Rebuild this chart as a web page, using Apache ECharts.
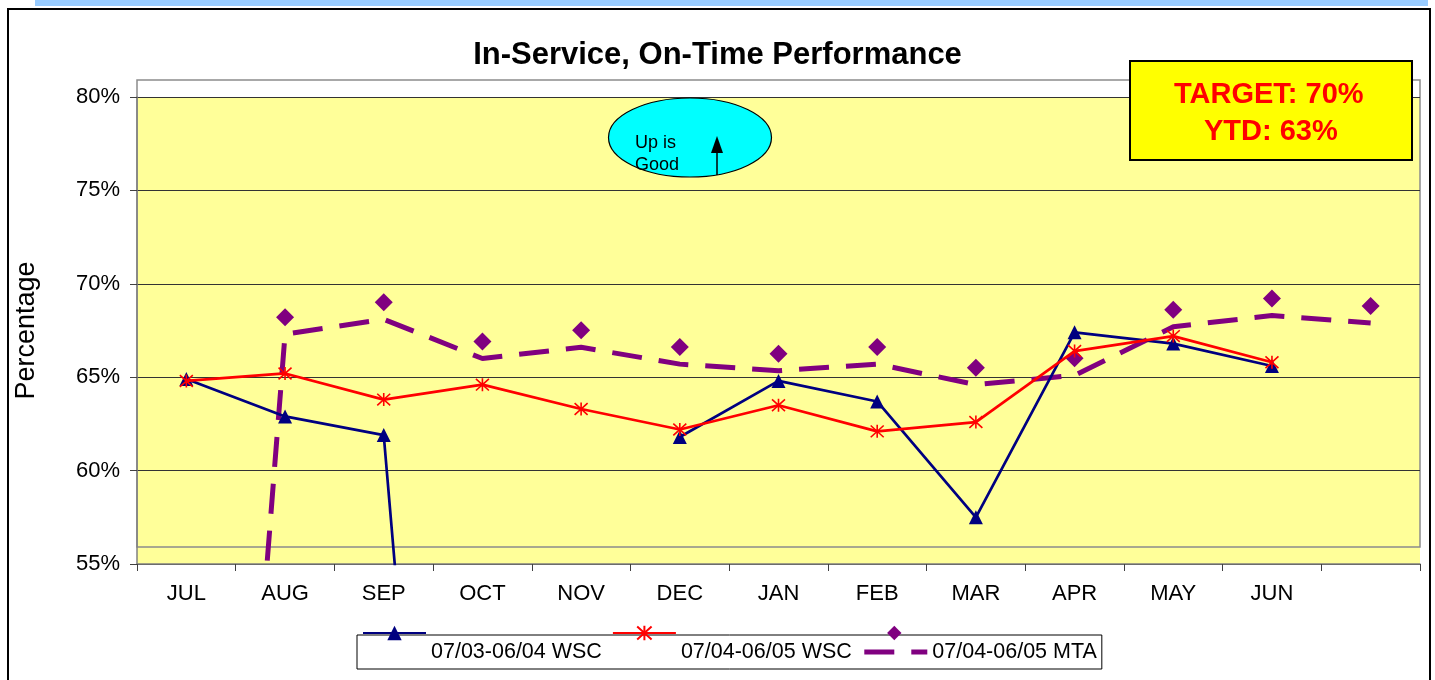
<!DOCTYPE html>
<html>
<head>
<meta charset="utf-8">
<title>In-Service, On-Time Performance</title>
<script src="https://cdn.jsdelivr.net/npm/echarts@6/dist/echarts.min.js"></script>
<style>
  html, body { margin: 0; padding: 0; background: #fff; }
  #chart { width: 1435px; height: 680px; }
</style>
</head>
<body>
<div id="chart"></div>
<script>
// months (13th slot is an empty category, as in the original sheet)
const months = ['JUL', 'AUG', 'SEP', 'OCT', 'NOV', 'DEC', 'JAN', 'FEB', 'MAR', 'APR', 'MAY', 'JUN', ''];
const yTicks = [55, 60, 65, 70, 75, 80];

// values in percent
const wsc0304 = [64.9, 62.9, 61.9, 0, null, 61.8, 64.8, 63.7, 57.5, 67.4, 66.8, 65.6, null];
const wsc0405 = [64.8, 65.2, 63.8, 64.6, 63.3, 62.2, 63.5, 62.1, 62.6, 66.4, 67.2, 65.8, null];
const mta0405 = [0, 67.3, 68.1, 66.0, 66.6, 65.7, 65.35, 65.7, 64.6, 65.1, 67.7, 68.3, 67.9];

const seriesNames = ['07/03-06/04 WSC', '07/04-06/05 WSC', '07/04-06/05 MTA'];
const targetText = 'TARGET: 70%';
const ytdText = 'YTD: 63%';

const FONT = '"Liberation Sans", Arial, sans-serif';
const NAVY = '#000080';
const RED = '#ff0000';
const PURPLE = '#800080';
const STAR = 'path://M5,0L5,10M0.5,0.5L9.5,9.5M0.5,9.5L9.5,0.5';
const MTA_DASH = [30, 17];

const chart = echarts.init(document.getElementById('chart'));

const legendBase = {
  left: 357,
  itemWidth: 63,
  itemHeight: 18,
  itemGap: 10,
  selectedMode: false,
  textStyle: { fontSize: 21.5, fontFamily: FONT, color: '#000' }
};

const option = {
  animation: false,
  backgroundColor: '#fff',
  title: {
    text: 'In-Service, On-Time Performance',
    left: 'center',
    top: 40,
    padding: 0,
    textStyle: { fontSize: 31, fontWeight: 'bold', fontFamily: FONT, color: '#000' }
  },
  legend: [
    // markers sit on the top edge of the legend box in the original
    Object.assign({}, legendBase, {
      top: 622,
      padding: [0, 5],
      textStyle: { fontSize: 21.5, fontFamily: FONT, color: 'rgba(0,0,0,0)' },
      data: [
        { name: seriesNames[0] },
        { name: seriesNames[1] },
        { name: seriesNames[2], lineStyle: { opacity: 0 } }
      ]
    }),
    Object.assign({}, legendBase, {
      top: 635,
      padding: [6, 5],
      borderColor: '#000',
      borderWidth: 1,
      backgroundColor: '#fff',
      data: [
        { name: seriesNames[0], itemStyle: { opacity: 0 }, lineStyle: { opacity: 0 } },
        { name: seriesNames[1], itemStyle: { opacity: 0 }, lineStyle: { opacity: 0 } },
        { name: seriesNames[2], itemStyle: { opacity: 0 }, lineStyle: { width: 5, type: MTA_DASH, color: PURPLE } }
      ]
    })
  ],
  grid: [
    { left: 137, right: 15, top: 97, bottom: 116, show: true, backgroundColor: '#ffff99', borderWidth: 0 },
    { left: 137, right: 15, top: 80, height: 467, show: true, backgroundColor: 'transparent', borderColor: '#8c8c8c', borderWidth: 1.5 }
  ],
  xAxis: [
    {
      type: 'category',
      gridIndex: 0,
      data: months,
      boundaryGap: true,
      axisLine: { lineStyle: { color: '#808080', width: 1.5 } },
      axisTick: { show: true, length: 7, lineStyle: { color: '#404040' } },
      axisLabel: { fontSize: 22, fontFamily: FONT, color: '#000', margin: 19 },
      splitLine: { show: false }
    },
    {
      type: 'category',
      gridIndex: 1,
      data: months,
      boundaryGap: true,
      show: false
    }
  ],
  yAxis: [
    {
      type: 'value',
      gridIndex: 0,
      min: yTicks[0],
      max: yTicks[yTicks.length - 1],
      interval: 5,
      name: 'Percentage',
      nameLocation: 'middle',
      nameRotate: 90,
      nameGap: 97,
      nameTextStyle: { fontSize: 27, fontFamily: FONT, color: '#000' },
      axisLine: { show: true, lineStyle: { color: '#808080', width: 1.5 } },
      axisTick: { show: true, length: 7, lineStyle: { color: '#404040' } },
      axisLabel: { fontSize: 22, fontFamily: FONT, color: '#000', margin: 17, formatter: '{value}%' },
      splitLine: { show: true, lineStyle: { color: '#333', width: 1.2 } }
    },
    {
      type: 'value',
      gridIndex: 1,
      min: yTicks[0],
      max: yTicks[yTicks.length - 1],
      show: false,
      splitLine: { show: false }
    }
  ],
  series: [
    {
      name: seriesNames[0],
      type: 'line',
      data: wsc0304,
      connectNulls: false,
      symbol: 'triangle',
      symbolSize: 14,
      color: NAVY,
      lineStyle: { color: NAVY, width: 2.7 },
      itemStyle: { color: NAVY },
      z: 4
    },
    {
      name: seriesNames[1],
      type: 'line',
      data: wsc0405,
      symbol: STAR,
      symbolSize: 13,
      color: RED,
      lineStyle: { color: RED, width: 2.7 },
      itemStyle: { color: RED, borderColor: RED, borderWidth: 1.6 },
      z: 5
    },
    {
      name: seriesNames[2],
      type: 'line',
      data: mta0405,
      symbol: 'diamond',
      showSymbol: false,
      color: PURPLE,
      lineStyle: { color: PURPLE, width: 5, type: MTA_DASH },
      itemStyle: { color: PURPLE },
      z: 3
    },
    {
      // the MTA markers are drawn on the chart's second plot area, shifted up
      name: 'MTA markers',
      type: 'scatter',
      xAxisIndex: 1,
      yAxisIndex: 1,
      data: mta0405,
      symbol: 'diamond',
      symbolSize: 18,
      itemStyle: { color: PURPLE, opacity: 1 },
      z: 3
    }
  ],
  graphic: [
    { type: 'rect', z: -1, shape: { x: 35, y: 0, width: 1393, height: 6 }, style: { fill: '#99ccff' } },
    { type: 'rect', z: 100, shape: { x: 8, y: 9, width: 1422, height: 700 }, style: { fill: 'none', stroke: '#000', lineWidth: 2 } },
    // "Up is Good" bubble
    { type: 'ellipse', z: 100, shape: { cx: 690, cy: 137.5, rx: 81.5, ry: 39.5 }, style: { fill: '#00ffff', stroke: '#000', lineWidth: 1.2 } },
    { type: 'text', z: 101, left: 635, top: 132, style: { text: 'Up is\nGood', font: '18px ' + FONT, fill: '#000', lineHeight: 22 } },
    { type: 'line', z: 101, shape: { x1: 717, y1: 150, x2: 717, y2: 175 }, style: { stroke: '#000', lineWidth: 1.5 } },
    { type: 'polygon', z: 101, shape: { points: [[717, 136], [711, 153], [723, 153]] }, style: { fill: '#000' } },
    // target / YTD box
    { type: 'rect', z: 100, shape: { x: 1130, y: 61, width: 282, height: 99 }, style: { fill: '#ffff00', stroke: '#000', lineWidth: 2 } },
    { type: 'text', z: 101, left: 1174, top: 80, style: { text: targetText, font: 'bold 29px ' + FONT, fill: '#ff0000' } },
    { type: 'text', z: 101, left: 1204, top: 117, style: { text: ytdText, font: 'bold 29px ' + FONT, fill: '#ff0000' } }
  ]
};

chart.setOption(option);
</script>
</body>
</html>
